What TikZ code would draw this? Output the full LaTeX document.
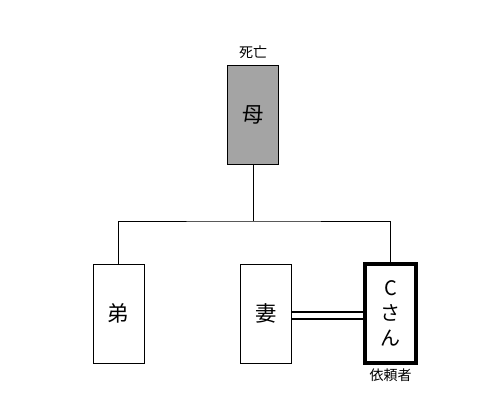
\documentclass[tikz,border=0pt]{standalone}
\usepackage{fontspec}
\setmainfont{Noto Sans CJK JP}
\usetikzlibrary{positioning}

\begin{document}
\begin{tikzpicture}[x=0.75pt,y=-0.75pt,
person/.style = {draw=black, line width=0.65pt, fill=white, minimum width=38.25pt,
  minimum height=74.25pt, inner sep=0pt, font=\fontsize{16pt}{18pt}\selectfont},
note/.style = {font=\fontsize{10.5pt}{12pt}\selectfont, inner sep=1pt}]
\useasboundingbox (0,0) rectangle (504,403);
    \node[person, fill={rgb,255:red,164;green,164;blue,164}] (M) at (253,114.5) {母};
    \node[note, above=3pt of M] (Md) {死亡};
    \node[person] (B) at (118.5,313.5) {弟};
    \node[person] (W) at (266,313.5) {妻};
    \node[person, line width=2.6pt, align=center,
      font=\fontsize{15pt}{18.75pt}\selectfont] (C) at (390.5,313.5) {C\\さ\\ん};
    \node[note, below=2pt of C] (Cr) {依頼者};
    \coordinate (J) at (253,221);

    \draw[line width=0.65pt] (M.south) -- (J);
    \draw[line width=0.65pt] (B.north) |- (J) -| (C.north);
    \draw[line width=1.5pt, double, double distance=3.4pt]
      ([yshift=-1.5pt]W.east) -- ([yshift=-1.5pt]C.west);
\end{tikzpicture}
\end{document}
